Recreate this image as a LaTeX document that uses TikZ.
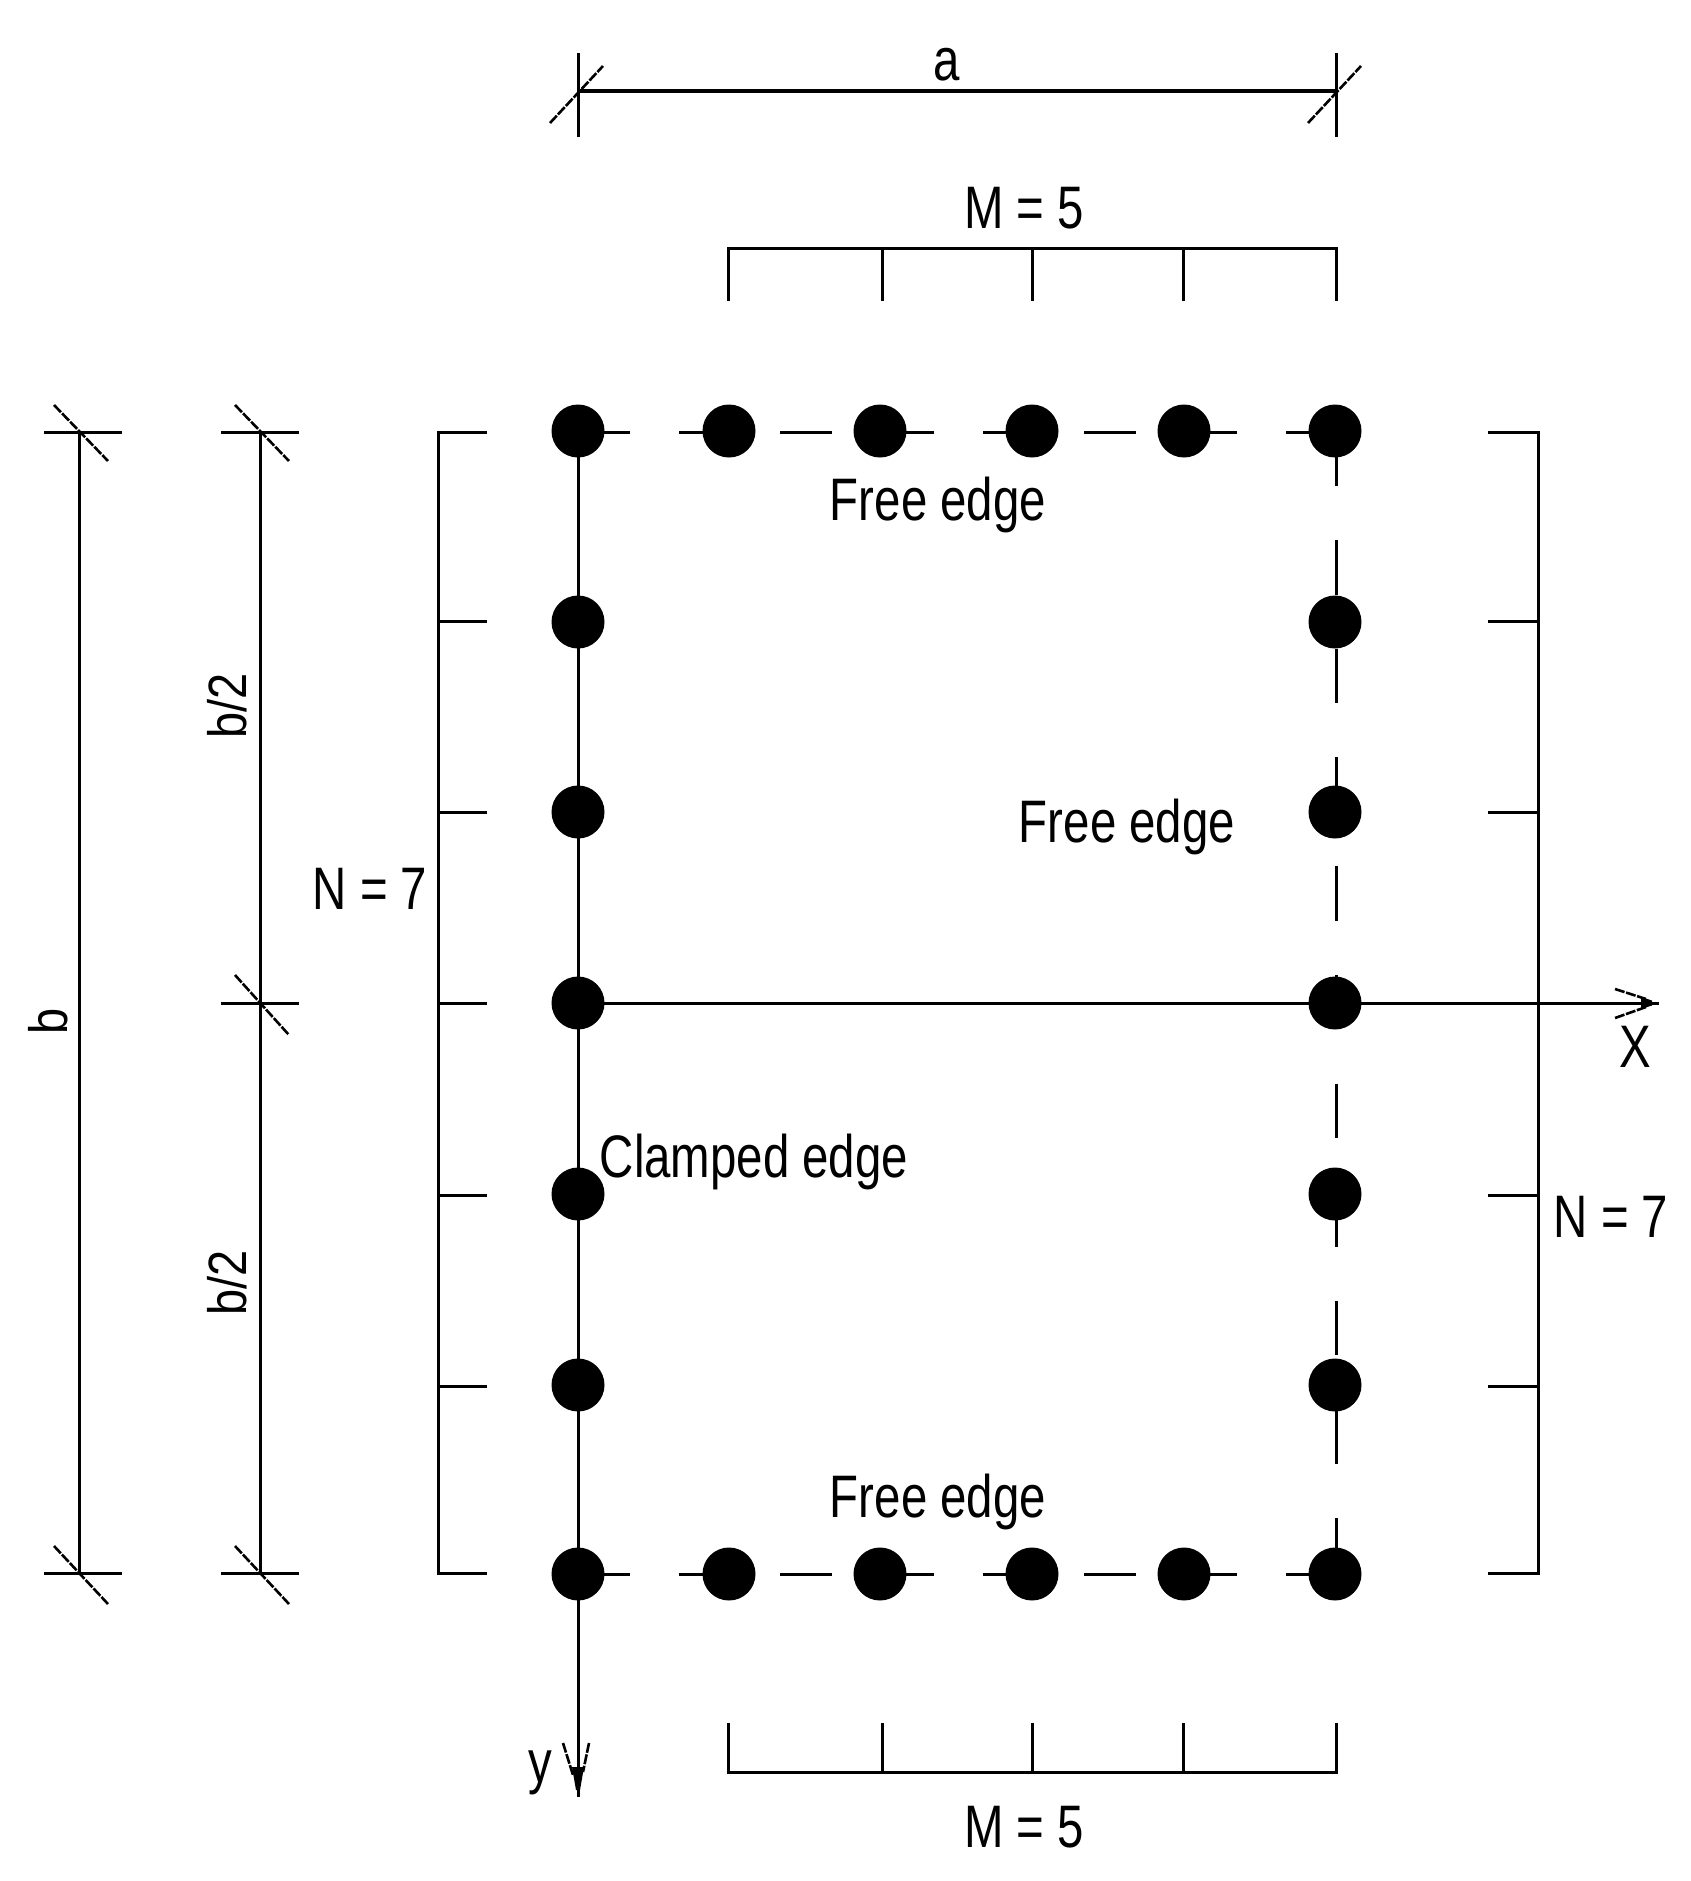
\documentclass[tikz,border=0pt]{standalone}
\usepackage{fontspec}
\setmainfont[FakeStretch=0.79]{Liberation Sans}
\newfontfamily\vertfont[FakeStretch=0.87]{Liberation Sans}
\tikzset{
  line/.style={line width=3pt,black},
  heavy/.style={line width=3.6pt,black},
  slash/.style={line width=2.6pt,black,dash pattern=on 10pt off 1.6pt},
  freerow/.style={line width=3pt,black,dash pattern=on 52pt off 49.2pt},
  freecol/.style={line width=3pt,black,dash pattern=on 54.5pt off 54.2pt},
  dot/.style={circle,fill=black,draw=none,inner sep=0pt,minimum size=53pt},
  lab/.style={inner sep=0pt,outer sep=0pt,anchor=base,font=\fontsize{60pt}{64pt}\selectfont},
  vlab/.style={inner sep=0pt,outer sep=0pt,anchor=base,rotate=90,font=\vertfont\fontsize{54pt}{58pt}\selectfont}
}
\begin{document}
\begin{tikzpicture}[x=1pt,y=-1pt]
\useasboundingbox (0,0) rectangle (1691,1881);
% dots
\foreach \n/\x in {0/578,1/729,2/880,3/1032,4/1184,5/1335}{
  \node[dot] (t\n) at (\x,431) {};
  \node[dot] (u\n) at (\x,1574) {};
}
\foreach \n/\y in {1/622,2/812,3/1003,4/1194,5/1385}{
  \node[dot] (l\n) at (578,\y) {};
  \node[dot] (r\n) at (1335,\y) {};
}
% edges
\coordinate (xtip) at (1659,1003);
\coordinate (ytip) at (578,1797);
\draw[line] (578,431) -- (ytip);
\draw[line] (l3.center) -- (xtip);
\draw[freerow] (578,432.5) -- (1336,432.5);
\draw[freerow] (578,1574) -- (1336,1574);
\draw[freecol] (1336,431.3) -- (1336,1574);
% arrowheads
\coordinate (xa) at (1615,989); \coordinate (xb) at (1615,1018);
\coordinate (ya) at (563,1743); \coordinate (yb) at (589,1743);
\draw[slash] (xa) -- (1646,999);
\draw[slash] (xb) -- (1646,1007);
\fill (1641,997) -- (1652,1000.5) -- (1652,1005.5) -- (1641,1009) -- cycle;
\draw[slash] (ya) -- (573,1775);
\draw[slash] (yb) -- (583,1772);
\fill (572,1767) -- (584,1767) -- (580,1790) -- (576,1790) -- cycle;
% dimension a
\coordinate (aL) at (578,91); \coordinate (aR) at (1336,91);
\draw[heavy] (aL) -- (aR);
\draw[line] (578,53) -- (578,137);
\draw[line] (1336,53) -- (1336,137);
\draw[slash] (550,123) -- (603,66);
\draw[slash] (1308,123) -- (1361,66);
% dimension b
\coordinate (bT) at (79,432); \coordinate (bB) at (79,1573);
\draw[line] (bT) -- (bB);
\draw[line] (44,432.5) -- (122,432.5);
\draw[line] (44,1573) -- (122,1573);
\draw[slash] (54,405) -- (108,461);
\draw[slash] (54,1546) -- (108,1604);
% dimension b/2
\coordinate (cT) at (260,432); \coordinate (cB) at (260,1573);
\draw[line] (cT) -- (cB);
\draw[line] (221,432.5) -- (299,432.5);
\draw[line] (221,1003.5) -- (299,1003.5);
\draw[line] (221,1573) -- (299,1573);
\draw[slash] (235,405) -- (289,461);
\draw[slash] (235,975) -- (289,1035);
\draw[slash] (235,1546) -- (289,1604);
% N brackets
\draw[line] (487,432.5) -- (438,432.5) -- (438,1573) -- (487,1573);
\draw[line] (1488,432.5) -- (1538,432.5) -- (1538,1573) -- (1488,1573);
\foreach \y in {621,812,1003.5,1195,1386}{
  \draw[line] (438,\y) -- (487,\y);
  \draw[line] (1488,\y) -- (1538,\y);
}
% M brackets
\draw[line] (728.5,301) -- (728.5,248) -- (1336,248) -- (1336,301);
\draw[line] (728.5,1723) -- (728.5,1772) -- (1336,1772) -- (1336,1723);
\foreach \x in {882,1032,1183}{
  \draw[line] (\x,248) -- (\x,301);
  \draw[line] (\x,1723) -- (\x,1772);
}
% labels
\node[lab] (la) at (947,81) {a};
\node[lab] (m1) at (1024,228) {M = 5};
\node[lab] (m2) at (1024,1847) {M = 5};
\node[lab] (f1) at (938,520) {Free edge};
\node[lab] (f2) at (1127,842) {Free edge};
\node[lab] (f3) at (938,1517) {Free edge};
\node[lab] (ce) at (754,1177) {Clamped edge};
\node[lab] (n1) at (370,909) {N = 7};
\node[lab] (n2) at (1611,1237) {N = 7};
\node[lab] (lx) at (1635,1067) {X};
\node[lab] (ly) at (540,1782) {y};
\node[vlab] (lb) at (67,1021) {b};
\node[vlab] (b1) at (246,706) {b/2};
\node[vlab] (b2) at (246,1283) {b/2};
\end{tikzpicture}
\end{document}
